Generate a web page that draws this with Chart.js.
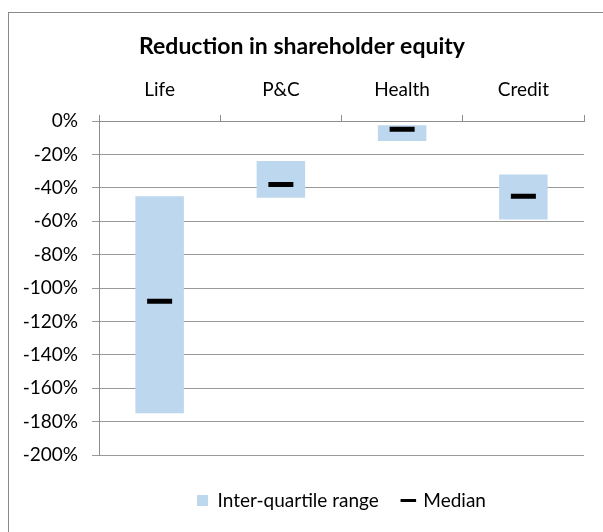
<!DOCTYPE html>
<html>
<head>
<meta charset="utf-8">
<script src="https://cdn.jsdelivr.net/npm/chart.js@4"></script>
<style>
    html, body { margin: 0; padding: 0; background: #fff; overflow: hidden; }
    #wrap { position: relative; width: 603px; height: 532px; overflow: hidden; }
    #frame {
        position: absolute; left: 8px; top: 12px; width: 700px; height: 600px;
        border: 1px solid #8a8a8a; box-sizing: border-box;
    }
    #chart { position: absolute; left: 0; top: 0; }
</style>
</head>
<body>
<div id="wrap">
    <div id="frame"></div>
    <canvas id="chart" width="603" height="532"></canvas>
</div>
<script>
// Reduction in shareholder equity, inter-quartile range and median by line of business

const categories = ['Life', 'P&C', 'Health', 'Credit'];
const iqrLow = [-175, -46, -12, -59];
const iqrHigh = [-45, -24, -2.5, -32];
const medians = [-108, -38, -5, -45];
const yTicks = [0, -20, -40, -60, -80, -100, -120, -140, -160, -180, -200];

const FONT = "Lato, 'Open Sans', sans-serif";
const GRID = '#999999';
const AXIS = '#8c8c8c';

const ranges = categories.map((c, i) => [iqrLow[i], iqrHigh[i]]);

const chart = new Chart(document.getElementById('chart'), {
    type: 'bar',
    data: {
        labels: categories,
        datasets: [
            {
                type: 'bar',
                label: 'Inter-quartile range',
                data: ranges,
                backgroundColor: '#bdd7ee',
                borderWidth: 0,
                categoryPercentage: 1,
                barPercentage: 0.4,
                pointStyle: 'rect',
                order: 2,
            },
            {
                type: 'line',
                label: 'Median',
                data: medians,
                showLine: false,
                pointStyle: 'line',
                pointRadius: 12.5,
                pointHoverRadius: 12.5,
                borderWidth: 5,
                pointBorderWidth: 5,
                borderColor: '#000',
                backgroundColor: '#000',
                order: 1,
            },
        ],
    },
    options: {
        responsive: false,
        animation: false,
        events: [],
        layout: { padding: { left: 20, right: 19, top: 0, bottom: 12 } },
        plugins: {
            tooltip: { enabled: false },
            title: {
                display: true,
                text: 'Reduction in shareholder equity',
                color: '#000',
                font: { family: FONT, size: 23, weight: 'bold' },
                padding: { top: 33, bottom: 0 },
            },
            legend: {
                position: 'bottom',
                fullSize: false,
                title: { display: true, text: ' ', font: { size: 10 }, padding: 0 },
                labels: {
                    color: '#000',
                    font: { family: FONT, size: 19 },
                    usePointStyle: true,
                    boxWidth: 11,
                    boxHeight: 11,
                    padding: 24,
                    sort: (a, b) => a.datasetIndex - b.datasetIndex,
                    generateLabels(chart) {
                        const items = Chart.defaults.plugins.legend.labels.generateLabels(chart);
                        items.forEach(item => {
                            if (item.datasetIndex === 0) {
                                item.pointStyle = 'rect';
                                item.fillStyle = '#bdd7ee';
                                item.strokeStyle = '#bdd7ee';
                                item.lineWidth = 0;
                            } else {
                                item.pointStyle = 'line';
                                item.strokeStyle = '#000';
                                item.lineWidth = 3;
                            }
                        });
                        return items;
                    },
                },
            },
        },
        scales: {
            x: {
                position: 'top',
                afterFit: (scale) => { scale.height = 60.4; },
                grid: {
                    offset: true,
                    drawOnChartArea: false,
                    tickLength: 6,
                    color: AXIS,
                    lineWidth: 1,
                },
                border: { display: true, color: AXIS, width: 1 },
                ticks: {
                    color: '#000',
                    padding: 13.6,
                    font: { family: FONT, size: 19 },
                },
            },
            y: {
                min: -200,
                max: 0,
                afterFit: (scale) => { scale.width = 79; },
                afterBuildTicks: (scale) => { scale.ticks = yTicks.map(v => ({ value: v })); },
                grid: {
                    color: GRID,
                    lineWidth: 1,
                    tickLength: 7,
                },
                border: { display: true, color: AXIS, width: 1 },
                ticks: {
                    color: '#000',
                    padding: 14,
                    font: { family: FONT, size: 19 },
                    callback: (v) => v + '%',
                },
            },
        },
    },
});
</script>
</body>
</html>
